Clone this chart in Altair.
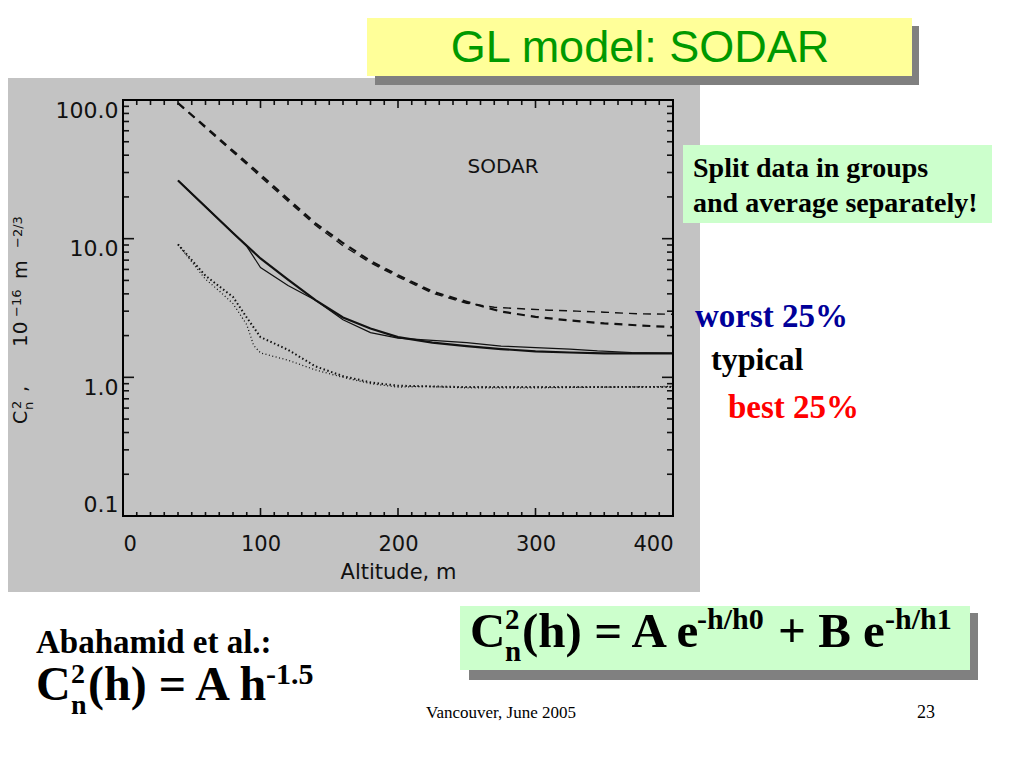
import altair as alt
import pandas as pd

# ---------------- data ----------------
x_labels = [0, 100, 200, 300, 400]
y_labels = [0.1, 1, 10, 100]

worst_model_h = [40, 60, 80, 100, 120, 140, 160, 180, 200, 225, 250, 275, 300, 325, 350, 375, 400]
worst_model_c = [95, 64, 43, 29, 19.3, 12.9, 9.3, 6.9, 5.45, 4.15, 3.5, 2.98, 2.73, 2.57, 2.45, 2.37, 2.3]

worst_data_h = [40, 60, 80, 100, 120, 140, 160, 180, 200, 225, 250, 270, 290, 310, 330, 350, 375, 400]
worst_data_c = [95, 63, 42, 28, 18.6, 12.5, 8.9, 6.7, 5.3, 4.05, 3.42, 3.2, 3.12, 3.05, 3.0, 2.95, 2.87, 2.85]

typical_model_h = [40, 60, 80, 100, 120, 140, 160, 180, 200, 225, 250, 275, 300, 325, 350, 375, 400]
typical_model_c = [26.3, 17, 11, 7.2, 5.07, 3.6, 2.7, 2.25, 1.95, 1.78, 1.68, 1.6, 1.54, 1.51, 1.49, 1.49, 1.49]

typical_data_h = [40, 60, 80, 90, 100, 120, 140, 160, 180, 200, 225, 250, 275, 300, 325, 345, 370, 400]
typical_data_c = [26.3, 17, 11, 8.8, 6.2, 4.6, 3.6, 2.6, 2.1, 1.92, 1.85, 1.78, 1.68, 1.64, 1.6, 1.55, 1.51, 1.49]

best_model_h = [40, 60, 80, 90, 100, 120, 140, 160, 180, 200, 250, 300, 350, 400]
best_model_c = [9.1, 5.4, 3.8, 2.7, 1.95, 1.58, 1.2, 1.02, 0.92, 0.87, 0.85, 0.85, 0.85, 0.85]

best_data_h = [40, 50, 60, 70, 80, 90, 95, 100, 120, 140, 160, 180, 200, 220, 250, 300, 350, 400]
best_data_c = [9.1, 6.8, 5.1, 4.2, 3.4, 2.4, 1.7, 1.5, 1.33, 1.13, 1.0, 0.9, 0.85, 0.86, 0.84, 0.84, 0.85, 0.86]

x_minor = [v for v in range(10, 400, 10) if v % 100 != 0]
x_major = [100, 200, 300]
y_minor = [d * k for d in (0.1, 1, 10) for k in range(2, 10)]
y_major = [1, 10]

# ---------------- geometry ----------------
W, H = 550, 416
OX, OY = 123, 100  # page position of plot origin


def px(x):
    return x - OX


def py(y):
    return y - OY


one = pd.DataFrame({"k": [0]})
INK = "#111111"
AXFONT = "DejaVu Sans"

xscale = alt.Scale(domain=[0, 400], nice=False, zero=False)
yscale = alt.Scale(type="log", domain=[0.1, 100], nice=False)
xaxis = alt.Axis(values=x_labels, title="Altitude, m", domain=False, ticks=False, grid=False,
                 labelFont=AXFONT, labelFontSize=21, labelColor=INK, labelPadding=17,
                 titleFont=AXFONT, titleFontSize=21, titleFontWeight="normal", titleColor=INK,
                 titlePadding=7, zindex=1)
yaxis = alt.Axis(values=y_labels, format=".1f", title=None, domain=False, ticks=False, grid=False,
                 labelFont=AXFONT, labelFontSize=22, labelColor=INK, labelPadding=5, zindex=1,
                 labelBaseline={"condition": {"test": "datum.value < 0.5", "value": "bottom"},
                                "value": "top"})
X = alt.X("x:Q", scale=xscale, axis=xaxis)
Y = alt.Y("y:Q", scale=yscale, axis=yaxis)


def series(h, c, width, dash=None):
    kw = dict(color=INK, strokeWidth=width)
    if dash:
        kw["strokeDash"] = dash
    return alt.Chart(pd.DataFrame({"x": h, "y": c})).mark_line(**kw).encode(x=X, y=Y)


def box(x1, y1, x2, y2, color):
    return alt.Chart(one).mark_rect(color=color).encode(
        x=alt.value(px(x1)), x2=alt.value(px(x2)), y=alt.value(py(y1)), y2=alt.value(py(y2)))


def txt(s, x, y, size, font="Liberation Serif", weight="bold", color="black", align="left", angle=None):
    kw = dict(text=s, font=font, fontSize=size, fontWeight=weight, color=color,
              align=align, baseline="alphabetic")
    if angle is not None:
        kw["angle"] = angle
    return alt.Chart(one).mark_text(**kw).encode(x=alt.value(px(x)), y=alt.value(py(y)))


def xticks(vals, y0, y1):
    return alt.Chart(pd.DataFrame({"x": vals})).mark_rule(color=INK, strokeWidth=1.6).encode(
        x=X, y=alt.value(y0), y2=alt.value(y1))


def yticks(vals, x0, x1):
    return alt.Chart(pd.DataFrame({"y": vals})).mark_rule(color=INK, strokeWidth=1.6).encode(
        y=Y, x=alt.value(x0), x2=alt.value(x1))


layers = [
    # slide backgrounds
    box(0, 78, 700, 592, "#c3c3c3"),
    box(375, 26, 919, 85, "#808080"),
    box(367, 18, 912, 76, "#ffff99"),
    box(683, 145, 992, 223, "#ccffcc"),
    box(469, 613, 978, 680, "#808080"),
    box(460, 606, 970, 670, "#ccffcc"),
    # curves
    series(worst_model_h, worst_model_c, 2.2, [8, 6]),
    series(worst_data_h, worst_data_c, 1.4, [8, 6]),
    series(typical_model_h, typical_model_c, 2.2),
    series(typical_data_h, typical_data_c, 1.2),
    series(best_model_h, best_model_c, 2.0, [1.5, 2.5]),
    series(best_data_h, best_data_c, 1.3, [1, 2.5]),
    # inward ticks
    xticks(x_minor, H, H - 4), xticks(x_major, H, H - 8),
    xticks(x_minor, 0, 5), xticks(x_major, 0, 8),
    yticks(y_minor, 0, 6), yticks(y_major, 0, 11),
    yticks(y_minor, W, W - 6), yticks(y_major, W, W - 11),
    # frame
    alt.Chart(one).mark_rect(fillOpacity=0, stroke="black", strokeWidth=2).encode(
        x=alt.value(0), x2=alt.value(W), y=alt.value(0), y2=alt.value(H)),
    # in-plot label
    txt("SODAR", 503, 173, 20, font=AXFONT, weight="normal", color=INK, align="center"),
    # rotated y title pieces
    txt("C", 27, 424, 19, font=AXFONT, weight="normal", color=INK, angle=270),
    txt("n", 33, 410, 13, font=AXFONT, weight="normal", color=INK, angle=270),
    txt("2", 21, 409, 13, font=AXFONT, weight="normal", color=INK, angle=270),
    txt(",", 27, 392, 19, font=AXFONT, weight="normal", color=INK, angle=270),
    txt("10", 27, 347, 20, font=AXFONT, weight="normal", color=INK, angle=270),
    txt("\u221216", 21, 317, 13, font=AXFONT, weight="normal", color=INK, angle=270),
    txt("m", 27, 279, 19, font=AXFONT, weight="normal", color=INK, angle=270),
    txt("\u22122/3", 22, 248, 13, font=AXFONT, weight="normal", color=INK, angle=270),
    # slide texts
    txt("GL model: SODAR", 640, 62, 45, font="Liberation Sans", weight="normal", color="#009900", align="center"),
    txt("Split data in groups", 693, 177, 28),
    txt("and average separately!", 693, 212, 28),
    txt("worst 25%", 695, 327, 33, color="#000099"),
    txt("typical", 711, 370, 32),
    txt("best 25%", 728, 418, 33, color="#ff0000"),
    txt("Abahamid et al.:", 36, 653, 33),
    # left formula
    txt("C", 36, 700, 48),
    txt("n", 71, 714, 28),
    txt("2", 71, 683, 28),
    txt("(h) = A h", 88, 700, 48),
    txt("-1.5", 266, 684, 30),
    # boxed formula
    txt("C", 470, 647, 49),
    txt("n", 505, 661, 29),
    txt("2", 505, 629, 29),
    txt("(h) = A e", 522, 647, 49),
    txt("-h/h0", 697, 629, 30),
    txt("+ B e", 778, 647, 49),
    txt("-h/h1", 885, 629, 30),
    # footer
    txt("Vancouver, June 2005", 501, 718, 17, weight="normal", align="center"),
    txt("23", 926, 718, 18, weight="normal", align="center"),
]

chart = alt.layer(*layers).properties(
    width=W, height=H,
    padding={"left": OX - 8, "top": OY - 8, "right": 1016 - OX - W, "bottom": 240},
    autosize=alt.AutoSizeParams(type="none"),
    background="white",
).configure_view(strokeWidth=0)

chart.save("out.html", embed_options={"renderer": "svg", "actions": False})
